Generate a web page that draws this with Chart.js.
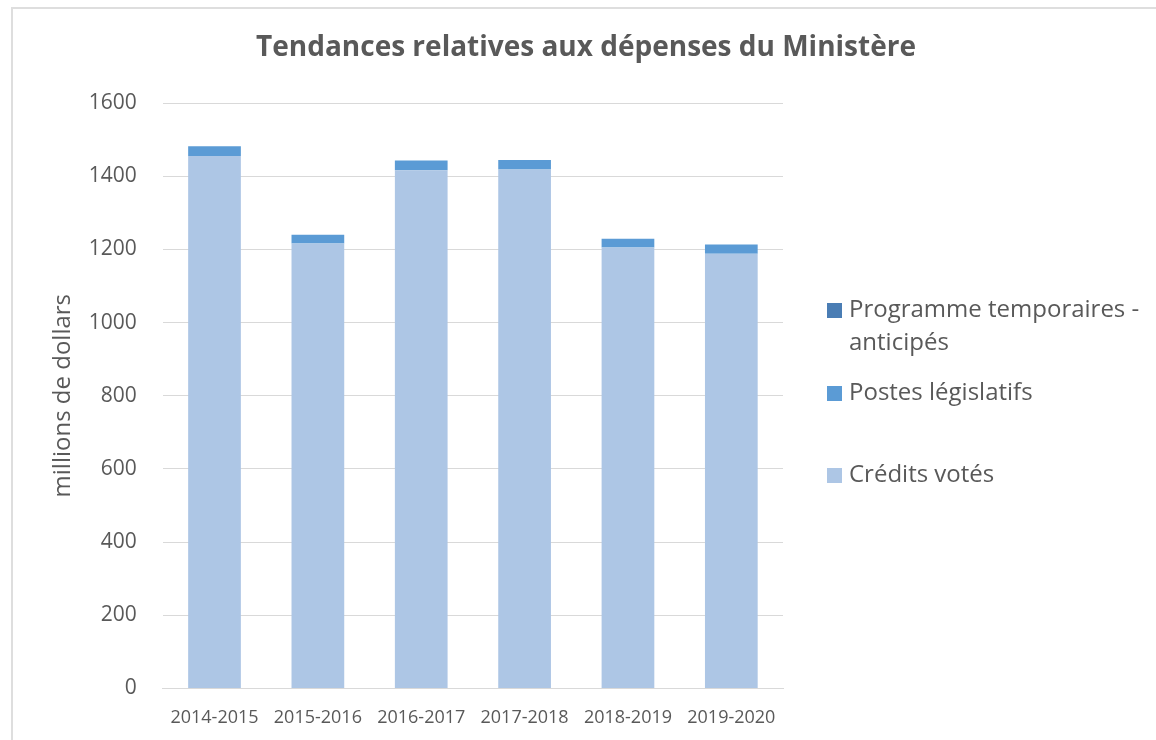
<!DOCTYPE html>
<html>
<head>
<meta charset="utf-8">
<script src="https://cdn.jsdelivr.net/npm/chart.js@4/dist/chart.umd.min.js"></script>
<style>
body { margin: 0; background: #fff; overflow: hidden; }
#frame { position: absolute; left: 11px; top: 7px; width: 1300px; height: 900px; border: 2px solid #dedede; }
#cvs { position: absolute; left: 0; top: 0; }
</style>
</head>
<body>
<div id="frame"></div>
<canvas id="cvs" width="1156" height="740"></canvas>
<script>
var years = ['2014-2015', '2015-2016', '2016-2017', '2017-2018', '2018-2019', '2019-2020']
var creditsVotes = [1455, 1216, 1416, 1418, 1205, 1188]
var postesLegislatifs = [27, 24, 27, 26, 24, 25]
var programmeTemporaires = [0, 0, 0, 0, 0, 0]

var titleText = 'Tendances relatives aux dépenses du Ministère'
var grey = '#595959'
var fam = '"Open Sans"'

// legend drawn by hand so the first label can wrap on two lines
var legendRows = [
	{ label: ['Programme temporaires -', 'anticipés'], ds: 2, y: 310 },
	{ label: ['Postes législatifs'], ds: 1, y: 393 },
	{ label: ['Crédits votés'], ds: 0, y: 475 }
]

var extras = {
	id: 'extras',
	afterDraw: function(chart){
		var ctx = chart.ctx
		ctx.save()
		ctx.fillStyle = grey
		ctx.font = 'bold 28px ' + fam
		ctx.textAlign = 'center'
		ctx.textBaseline = 'middle'
		ctx.fillText(titleText, 586, 48)

		ctx.font = '24px ' + fam
		ctx.textAlign = 'left'
		legendRows.forEach(function(r){
			ctx.fillStyle = chart.data.datasets[r.ds].backgroundColor
			ctx.fillRect(827, r.y - 7, 15, 15)
			ctx.fillStyle = grey
			r.label.forEach(function(t, i){
				ctx.fillText(t, 849, r.y + i * 33)
			})
		})
		ctx.restore()
	}
}

var ctx = document.getElementById('cvs').getContext('2d')
var chart = new Chart(ctx, {
	type: 'bar',
	data: {
		labels: years,
		datasets: [
			{ label: 'Crédits votés', data: creditsVotes, backgroundColor: '#adc6e5' },
			{ label: 'Postes législatifs', data: postesLegislatifs, backgroundColor: '#5b9bd5' },
			{ label: 'Programme temporaires - anticipés', data: programmeTemporaires, backgroundColor: '#4a7db4' }
		]
	},
	options: {
		responsive: false,
		maintainAspectRatio: false,
		animation: false,
		layout: { padding: { left: 49, right: 373, top: 103, bottom: 0 } },
		datasets: { bar: { barPercentage: 0.51, categoryPercentage: 1 } },
		plugins: {
			legend: { display: false },
			title: { display: false },
			tooltip: { enabled: false }
		},
		scales: {
			x: {
				stacked: true,
				grid: { display: false },
				border: { display: true, color: '#d9d9d9', width: 1 },
				ticks: { color: grey, font: { family: fam, size: 18 }, maxRotation: 0, padding: 11 }
			},
			y: {
				stacked: true,
				min: 0,
				max: 1600,
				ticks: {
					stepSize: 200, color: grey, font: { family: fam, size: 21 }, padding: 26,
					callback: function(v){ return String(v) }
				},
				grid: { color: '#d9d9d9', lineWidth: 1, drawTicks: false },
				border: { display: false },
				title: { display: true, text: 'millions de dollars', color: grey, font: { family: fam, size: 24 }, padding: { top: 0, bottom: -15 } }
			}
		}
	},
	plugins: [extras]
})
</script>
</body>
</html>
